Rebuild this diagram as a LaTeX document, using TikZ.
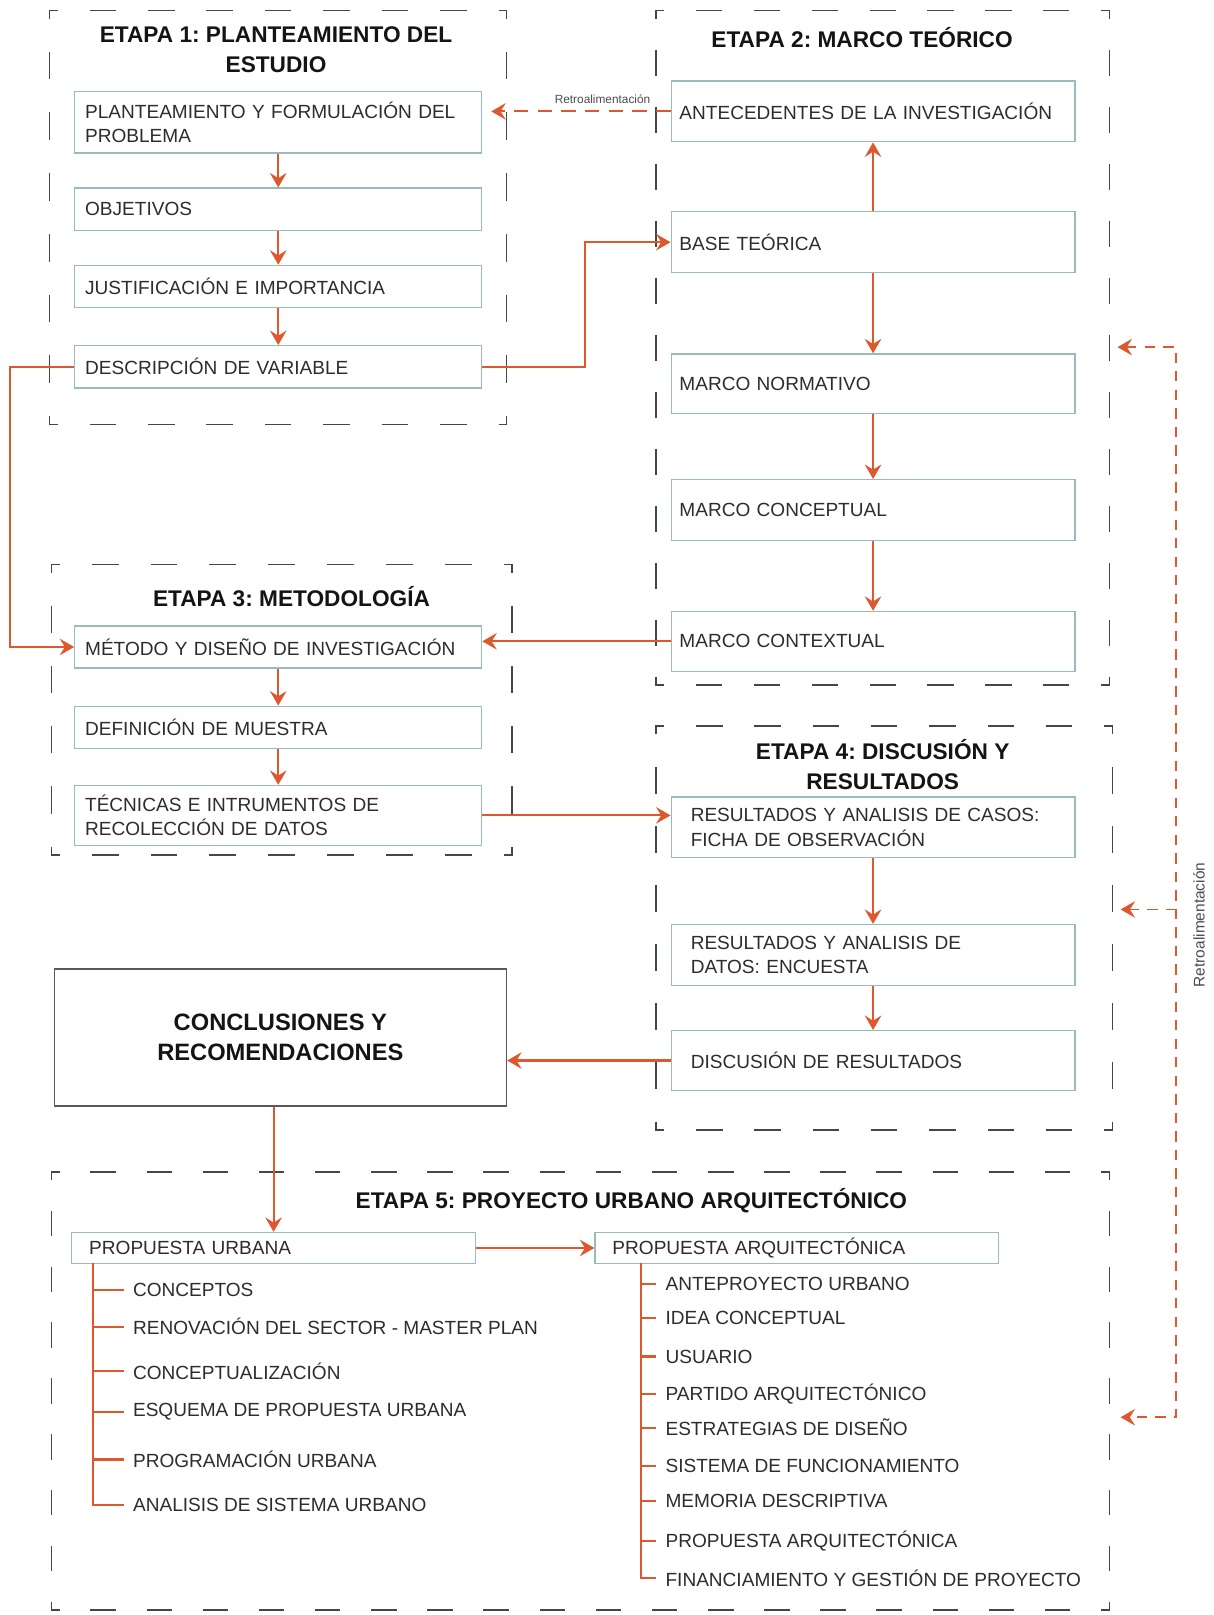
\documentclass[tikz,border=0pt]{standalone}
\usepackage{fontspec}
\setmainfont{Liberation Sans}
\usetikzlibrary{arrows.meta}
\definecolor{org}{RGB}{222,87,45}
\definecolor{boxc}{RGB}{150,188,188}
\definecolor{dsh}{RGB}{70,70,70}
\definecolor{txt}{RGB}{45,45,45}
\definecolor{ttc}{RGB}{20,20,20}
\frenchspacing
\newcommand\grpside[5]{%
  \pgfmathsetmacro\grpN{max(1,round((#5-30)/55))}%
  \pgfmathsetmacro\grpU{#5/(55*\grpN+30)}%
  \pgfmathsetmacro\grpD{25*\grpU}%
  \pgfmathsetmacro\grpG{30*\grpU}%
  \draw[grpline, dash pattern=on \grpD pt off \grpG pt, dash phase=\grpD pt] (#1,#2) -- (#3,#4);%
}
\newcommand\grpbox[4]{%
  \pgfmathsetmacro\grpW{#3-#1-16}%
  \pgfmathsetmacro\grpH{#4-#2-16}%
  \grpside{#1+8}{#2}{#3-8}{#2}{\grpW}%
  \grpside{#1+8}{#4}{#3-8}{#4}{\grpW}%
  \grpside{#1}{#2+8}{#1}{#4-8}{\grpH}%
  \grpside{#3}{#2+8}{#3}{#4-8}{\grpH}%
  \draw[grpline] (#1,#2+8) -- (#1,#2) -- (#1+8,#2);%
  \draw[grpline] (#3-8,#2) -- (#3,#2) -- (#3,#2+8);%
  \draw[grpline] (#1,#4-8) -- (#1,#4) -- (#1+8,#4);%
  \draw[grpline] (#3-8,#4) -- (#3,#4) -- (#3,#4-8);%
}
\begin{document}
\begin{tikzpicture}[x=1pt,y=-1pt,
  grpline/.style={draw=dsh, line width=1.4pt},
  bx/.style={draw=boxc, line width=1.3pt, fill=white, anchor=north west, inner ysep=0pt, align=left, text=txt, font=\fontsize{18.5}{24}\selectfont},
  bxa/.style={bx, minimum width=395, text width=375, inner xsep=10},
  bxb/.style={bx, minimum width=392, text width=376, inner xsep=8},
  bxc/.style={bx, minimum width=392, text width=354, inner xsep=19},
  bxd/.style={bx, minimum width=392, text width=358, inner xsep=17, minimum height=30},
  ttl/.style={font=\bfseries\fontsize{22}{29}\selectfont, text=ttc, align=center},
  item/.style={anchor=west, inner xsep=9pt, inner ysep=2pt, text=txt, font=\fontsize{18.5}{22}\selectfont},
  tip/.tip={Stealth[length=14pt,width=16pt,inset=5pt]},
  oarr/.style={draw=org, line width=2pt, -tip},
  oline/.style={draw=org, line width=2pt},
  fb/.style={draw=org, line width=1.8pt, dash pattern=on 10pt off 8pt},
  fbarr/.style={fb, -tip},
  retro/.style={text=txt!85, inner sep=1pt}
]
\useasboundingbox (0,0) rectangle (1178,1568);
\fill[white] (0,0) rectangle (1178,1568);

% group frames
\grpbox{48}{10}{492}{412}
\grpbox{637}{10}{1077}{665}
\grpbox{50}{548}{497}{830}
\grpbox{637}{705}{1080}{1097}
\grpbox{50}{1138}{1077}{1563}

% titles
\node[ttl] (t1) at (268,48) {ETAPA 1: PLANTEAMIENTO DEL\\ESTUDIO};
\node[ttl] (t2) at (837,36) {ETAPA 2: MARCO TEÓRICO};
\node[ttl] (t3) at (283,579) {ETAPA 3: METODOLOGÍA};
\node[ttl] (t4) at (857,742) {ETAPA 4: DISCUSIÓN Y\\RESULTADOS};
\node[ttl] (t5) at (613,1166) {ETAPA 5: PROYECTO URBANO ARQUITECTÓNICO};

% Etapa 1
\node[bxa, minimum height=60] (p1) at (72,88) {PLANTEAMIENTO Y FORMULACIÓN DEL\\PROBLEMA};
\node[bxa, minimum height=41] (obj) at (72,182) {OBJETIVOS};
\node[bxa, minimum height=41] (jus) at (72,257) {JUSTIFICACIÓN E IMPORTANCIA};
\node[bxa, minimum height=41] (des) at (72,335) {DESCRIPCIÓN DE VARIABLE};

% Etapa 2
\node[bxb, minimum height=59] (ante) at (651,78) {ANTECEDENTES DE LA INVESTIGACIÓN};
\node[bxb, minimum height=59] (base) at (651,205) {BASE TEÓRICA};
\node[bxb, minimum height=58] (norm) at (651,343) {MARCO NORMATIVO};
\node[bxb, minimum height=59] (conc) at (651,465) {MARCO CONCEPTUAL};
\node[bxb, minimum height=58] (ctx) at (651,593) {MARCO CONTEXTUAL};

% Etapa 3
\node[bxa, minimum height=41] (met) at (72,607) {MÉTODO Y DISEÑO DE INVESTIGACIÓN};
\node[bxa, minimum height=41] (mue) at (72,685) {DEFINICIÓN DE MUESTRA};
\node[bxa, minimum height=58] (tec) at (72,762) {TÉCNICAS E INTRUMENTOS DE\\RECOLECCIÓN DE DATOS};

% Etapa 4
\node[bxc, minimum height=59] (cas) at (651,773) {RESULTADOS Y ANALISIS DE CASOS:\\FICHA DE OBSERVACIÓN};
\node[bxc, minimum height=59] (enc) at (651,897) {RESULTADOS Y ANALISIS DE\\DATOS: ENCUESTA};
\node[bxc, minimum height=58] (dis) at (651,1000) {DISCUSIÓN DE RESULTADOS};

% Conclusiones
\node[draw=black!65, line width=1.4pt, fill=white, anchor=north west, minimum width=439, minimum height=133,
      align=center, text=ttc, font=\bfseries\fontsize{23}{29}\selectfont] (con) at (52,940) {CONCLUSIONES Y\\RECOMENDACIONES};

% Etapa 5
\node[bxd] (pu) at (69,1196) {PROPUESTA URBANA};
\node[bxd, minimum width=391] (pa) at (577,1196) {PROPUESTA ARQUITECTÓNICA};

\node[item] (u1) at (120,1252) {CONCEPTOS};
\node[item] (u2) at (120,1288) {RENOVACIÓN DEL SECTOR - MASTER PLAN};
\node[item] (u3) at (120,1331) {CONCEPTUALIZACIÓN};
\node[item] (u4) at (120,1371) {ESQUEMA DE PROPUESTA URBANA};
\node[item] (u5) at (120,1417) {PROGRAMACIÓN URBANA};
\node[item] (u6) at (120,1461) {ANALISIS DE SISTEMA URBANO};

\node[item] (a1) at (637,1247) {ANTEPROYECTO URBANO};
\node[item] (a2) at (637,1280) {IDEA CONCEPTUAL};
\node[item] (a3) at (637,1317) {USUARIO};
\node[item] (a4) at (637,1353) {PARTIDO ARQUITECTÓNICO};
\node[item] (a5) at (637,1386) {ESTRATEGIAS DE DISEÑO};
\node[item] (a6) at (637,1423) {SISTEMA DE FUNCIONAMIENTO};
\node[item] (a7) at (637,1457) {MEMORIA DESCRIPTIVA};
\node[item] (a8) at (637,1496) {PROPUESTA ARQUITECTÓNICA};
\node[item] (a9) at (637,1532) {FINANCIAMIENTO Y GESTIÓN DE PROYECTO};

% trees
\coordinate (utop) at (90,1226);
\coordinate (atop) at (622,1226);
\draw[oline] (utop) |- (u6.west);
\foreach \i in {1,...,5} { \draw[oline] (utop |- u\i.west) -- (u\i.west); }
\draw[oline] (atop) |- (a9.west);
\foreach \i in {1,...,8} { \draw[oline] (atop |- a\i.west) -- (a\i.west); }

% flow arrows
\draw[oarr] (p1.south -| obj.north) -- (obj.north);
\draw[oarr] (obj.south) -- (jus.north);
\draw[oarr] (jus.south) -- (des.north);
\draw[oarr] (base.north) -- (ante.south);
\draw[oarr] (base.south) -- (norm.north);
\draw[oarr] (norm.south) -- (conc.north);
\draw[oarr] (conc.south) -- (ctx.north);
\draw[oarr] (met.south) -- (mue.north);
\draw[oarr] (mue.south) -- (tec.north);
\draw[oarr] (cas.south) -- (enc.north);
\draw[oarr] (enc.south) -- (dis.north);

\draw[oarr] (des.east) -- ++(100,0) |- (base.west);
\draw[oarr] (des.west) -- ++(-62,0) |- (met.west);
\draw[oarr] (ctx.west) -- (ctx.west -| met.east);
\draw[oarr] (tec.east) -- (tec.east -| cas.west);
\draw[oarr] (dis.west) -- (dis.west -| con.east);
\draw[oarr] (pu.north |- con.south) -- (pu.north);
\draw[oarr] (pu.east) -- (pa.west);

% feedback (retroalimentacion)
\coordinate (rEnd) at (477,107);
\draw[fbarr, dash pattern=on 14pt off 9pt] (ante.west) -- (ante.west -| rEnd);
\node[retro, font=\fontsize{11.5}{13}\selectfont] (rl1) at (585,96) {Retroalimentación};

\coordinate (fA) at (1085,337);
\coordinate (fB) at (1088,883);
\coordinate (fC) at (1088,1376);
\coordinate (fV) at (1142,337);
\coordinate (fW) at (1142,1376);
\draw[fb, tip-tip] (fA) -- (fV) -- (fW) -- (fC);
\draw[fbarr] (fV |- fB) -- (fB);
\node[retro, rotate=90, font=\fontsize{15}{17}\selectfont] (rl2) at (1164,898) {Retroalimentación};
\end{tikzpicture}
\end{document}
